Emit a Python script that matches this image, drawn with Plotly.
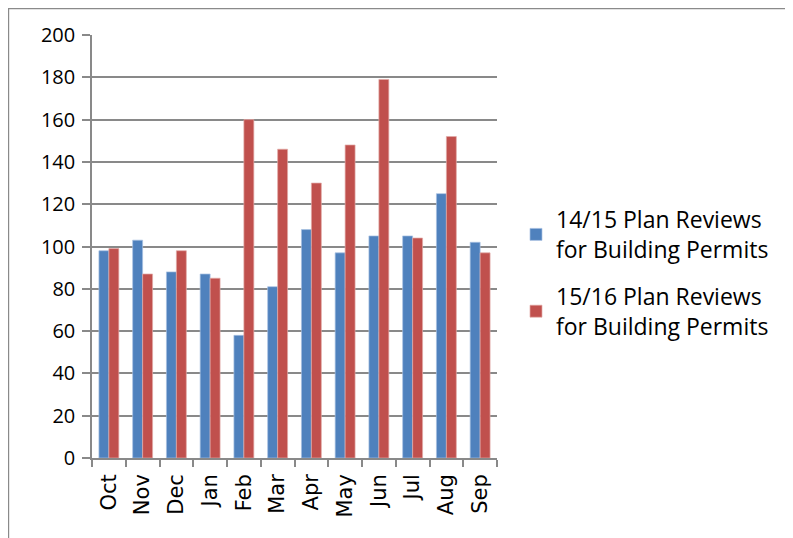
import plotly.graph_objects as go

months = ["Oct", "Nov", "Dec", "Jan", "Feb", "Mar", "Apr", "May", "Jun", "Jul", "Aug", "Sep"]
plan_1415 = [98, 103, 88, 87, 58, 81, 108, 97, 105, 105, 125, 102]
plan_1516 = [99, 87, 98, 85, 160, 146, 130, 148, 179, 104, 152, 97]
y_ticks = [0, 20, 40, 60, 80, 100, 120, 140, 160, 180, 200]

fig = go.Figure()
fig.add_trace(go.Bar(x=months, y=plan_1415, legendgroup="a",
                     name="14/15 Plan Reviews<br>for Building Permits",
                     marker=dict(color="#4F81BD", line=dict(color="#A9C2E2", width=0.7))))
fig.add_trace(go.Bar(x=months, y=plan_1516, legendgroup="b",
                     name="15/16 Plan Reviews<br>for Building Permits",
                     marker=dict(color="#C0504D", line=dict(color="#E3AAA8", width=0.7))))

# page body has an 8px margin, so figure coordinates = screen - 8
W, H = 785, 530
L, R, T, B = 84, 489, 27, 450
pw, ph = R - L, B - T

fig.update_layout(
    width=W, height=H,
    margin=dict(l=L, r=W - R, t=T, b=H - B),
    paper_bgcolor="white", plot_bgcolor="white",
    barmode="group", bargap=0.41, bargroupgap=0,
    font=dict(family="Open Sans, sans-serif", color="black"),
    showlegend=True,
    legend=dict(x=(508 - L) / pw, y=(B - 265) / ph, xanchor="left", yanchor="middle",
                font=dict(size=23, family="Open Sans, sans-serif"),
                tracegroupgap=14, bgcolor="rgba(0,0,0,0)"),
    xaxis=dict(type="category", tickangle=-90, tickfont=dict(size=21, family="DejaVu Sans"),
               showline=True, linecolor="#898989", linewidth=1.5,
               ticks="outside", tickson="boundaries", ticklen=7, tickcolor="#898989",
               tickwidth=1.5, showgrid=False, ticklabelstandoff=6),
    yaxis=dict(range=[0, 200], tickvals=y_ticks, tickfont=dict(size=20, family="Open Sans"),
               showline=True, linecolor="#898989", linewidth=1.5,
               ticks="outside", ticklen=8, tickcolor="#898989", tickwidth=1.5,
               showgrid=True, gridcolor="#898989", gridwidth=1.5, zeroline=False,
               ticklabelstandoff=3),
    shapes=[dict(type="rect", xref="paper", yref="paper",
                 x0=(0.6 - L) / pw, x1=(810 - L) / pw,
                 y0=(B - 560) / ph, y1=(B - 0.6) / ph,
                 line=dict(color="#8a8a8a", width=1.2), fillcolor="rgba(0,0,0,0)",
                 layer="below")],
)

fig.write_html("out.html")
